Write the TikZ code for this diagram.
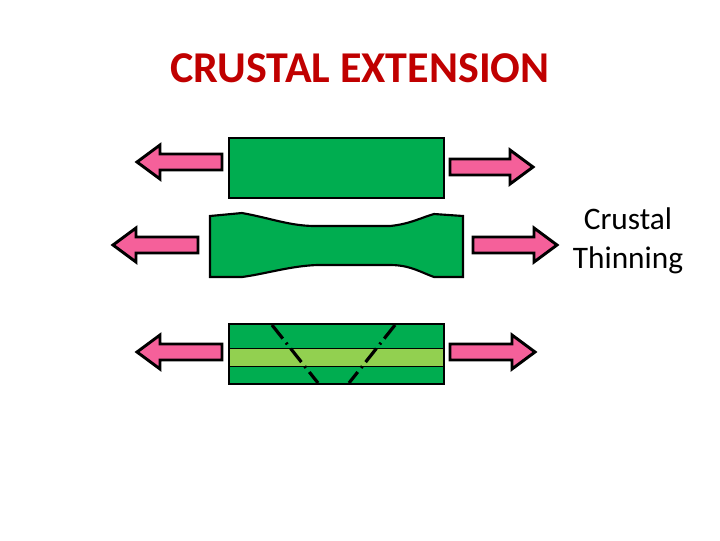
\documentclass[tikz,border=0pt]{standalone}
\usepackage{fontspec}
\setmainfont{Carlito}
\definecolor{pk}{HTML}{F5609A}
\definecolor{gd}{HTML}{00AD50}
\definecolor{gl}{HTML}{92D050}
\definecolor{tr}{HTML}{C00000}
\tikzset{arr/.style={fill=pk,draw=black,line width=2.2pt,line join=miter},
 slab/.style={fill=gd,draw=black,line width=1.6pt},
 fault/.style={line width=2.4pt,dash pattern=on 13pt off 4pt on 1.5pt off 4pt}}
\newcommand{\larr}[4]{\draw[arr] (#1,#3) -- (#1+23,#3-17) -- (#1+23,#3-8) -- (#2,#3-8) -- (#2,#3+8) -- (#1+23,#3+8) -- (#1+23,#3+17) -- cycle;}
\newcommand{\rarr}[4]{\draw[arr] (#2,#3) -- (#2-23,#3-17) -- (#2-23,#3-8) -- (#1,#3-8) -- (#1,#3+8) -- (#2-23,#3+8) -- (#2-23,#3+17) -- cycle;}
\begin{document}
\begin{tikzpicture}[x=0.75pt,y=-0.75pt]
\useasboundingbox (0,0) rectangle (720,540);
\node[text=tr,font=\bfseries\fontsize{33}{38}\selectfont] (title) at (360,68) {CRUSTAL EXTENSION};
% top
\draw[slab] (229,138) rectangle (444,198);
\larr{137}{222}{162}{}
\rarr{450}{533}{167}{}
% middle
\draw[slab] (210,216) -- (242,213) .. controls (270,218) and (290,226) .. (315,226) -- (390,226) .. controls (410,224) and (420,218) .. (434,214) -- (463,216) -- (463,277) -- (434,277) .. controls (420,272) and (410,265) .. (390,265) -- (317,265) .. controls (290,266) and (265,274) .. (242,277) -- (210,277) -- cycle;
\larr{113}{198}{245}{}
\rarr{473}{557}{245}{}
\node[font=\fontsize{23.5}{29}\selectfont,align=center] (lbl) at (628,241) {Crustal\\Thinning};
% bottom
\draw[fill=gd] (229,324) rectangle (444,384);
\draw[fill=gl,line width=0.6pt] (229,348) rectangle (444,366);
\draw[line width=1.6pt] (229,324) rectangle (444,384);
\draw[fault] (272,325) -- (318,383);
\draw[fault] (395,325) -- (349,383);
\larr{137}{222}{352}{}
\rarr{450}{535}{352}{}
\end{tikzpicture}
\end{document}
